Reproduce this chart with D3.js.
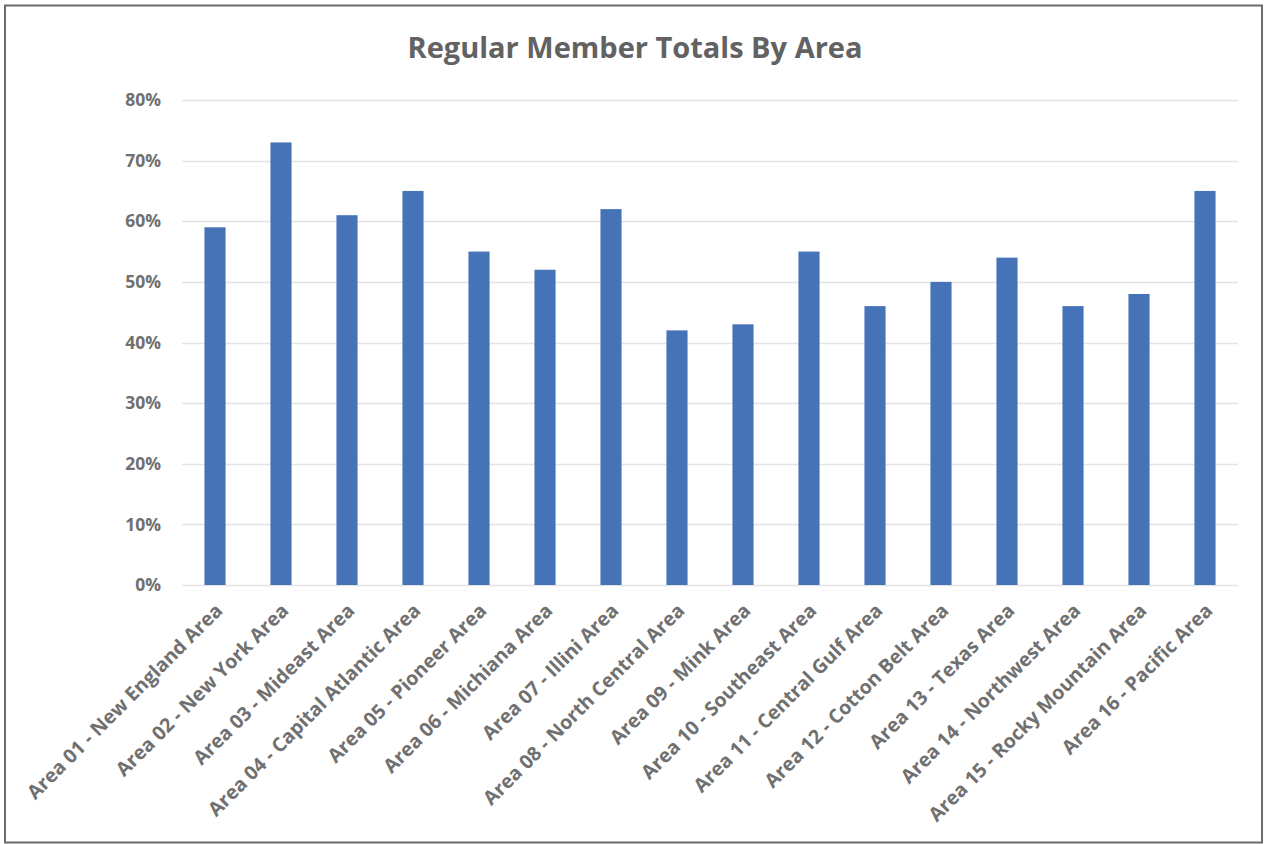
<!DOCTYPE html>
<html>
<head>
<meta charset="utf-8">
<script src="https://cdn.jsdelivr.net/npm/d3@7"></script>
<style>
  body { margin: 0; background: #fff; }
  svg { display: block; }
  text { font-family: "Open Sans", "Liberation Sans", sans-serif; }
</style>
</head>
<body>
<script>
const width = 1264;
const height = 844;

const title = "Regular Member Totals By Area";

const areas = [
  "Area 01 - New England Area",
  "Area 02 - New York Area",
  "Area 03 - Mideast Area",
  "Area 04 - Capital Atlantic Area",
  "Area 05 - Pioneer Area",
  "Area 06 - Michiana Area",
  "Area 07 - Illini Area",
  "Area 08 - North Central Area",
  "Area 09 - Mink Area",
  "Area 10 - Southeast Area",
  "Area 11 - Central Gulf Area",
  "Area 12 - Cotton Belt Area",
  "Area 13 - Texas Area",
  "Area 14 - Northwest Area",
  "Area 15 - Rocky Mountain Area",
  "Area 16 - Pacific Area"
];

const totals = [0.59, 0.73, 0.61, 0.65, 0.55, 0.52, 0.62, 0.42, 0.43, 0.55, 0.46, 0.50, 0.54, 0.46, 0.48, 0.65];

const yTicks = [0, 0.1, 0.2, 0.3, 0.4, 0.5, 0.6, 0.7, 0.8];

const margin = { top: 100, right: 26, bottom: 259, left: 182 };

const svg = d3.select("body")
  .append("svg")
  .attr("width", width)
  .attr("height", height);

// outer frame
svg.append("rect")
  .attr("x", 5)
  .attr("y", 5.5)
  .attr("width", 1257)
  .attr("height", 837)
  .attr("fill", "#fff")
  .attr("stroke", "#6b6b6b")
  .attr("stroke-width", 2);

const x = d3.scaleBand()
  .domain(areas)
  .range([margin.left, width - margin.right])
  .paddingInner(0.68)
  .paddingOuter(0.34);

const y = d3.scaleLinear()
  .domain([0, 0.8])
  .range([height - margin.bottom, margin.top]);

// gridlines
svg.append("g")
  .selectAll("line")
  .data(yTicks)
  .enter()
  .append("line")
  .attr("x1", margin.left)
  .attr("x2", width - margin.right)
  .attr("y1", d => Math.round(y(d)) + 0.5)
  .attr("y2", d => Math.round(y(d)) + 0.5)
  .attr("stroke", "#e3e3e3")
  .attr("stroke-width", 1.5);

// y labels
svg.append("g")
  .selectAll("text")
  .data(yTicks)
  .enter()
  .append("text")
  .attr("x", 161)
  .attr("y", d => y(d))
  .attr("dy", "0.35em")
  .attr("text-anchor", "end")
  .attr("fill", "#707070")
  .attr("font-size", 17.5)
  .attr("font-weight", "bold")
  .text(d3.format(".0%"));

// bars
svg.append("g")
  .selectAll("rect")
  .data(totals)
  .enter()
  .append("rect")
  .attr("x", (d, i) => x(areas[i]))
  .attr("width", x.bandwidth())
  .attr("y", d => y(d))
  .attr("height", d => y(0) - y(d))
  .attr("fill", "#4672b8");

// x labels, rotated
svg.append("g")
  .selectAll("text")
  .data(areas)
  .enter()
  .append("text")
  .attr("transform", d => "translate(" + (x(d) + x.bandwidth() / 2 + 4) + "," + (y(0) + 22) + ") rotate(-45)")
  .attr("text-anchor", "end")
  .attr("dy", "0.35em")
  .attr("fill", "#707070")
  .attr("font-size", 19.5)
  .attr("font-weight", "bold")
  .text(d => d);

// title
svg.append("text")
  .attr("x", 635)
  .attr("y", 48)
  .attr("dy", "0.35em")
  .attr("text-anchor", "middle")
  .attr("fill", "#626262")
  .attr("font-size", 29)
  .attr("font-weight", "bold")
  .text(title);
</script>
</body>
</html>
